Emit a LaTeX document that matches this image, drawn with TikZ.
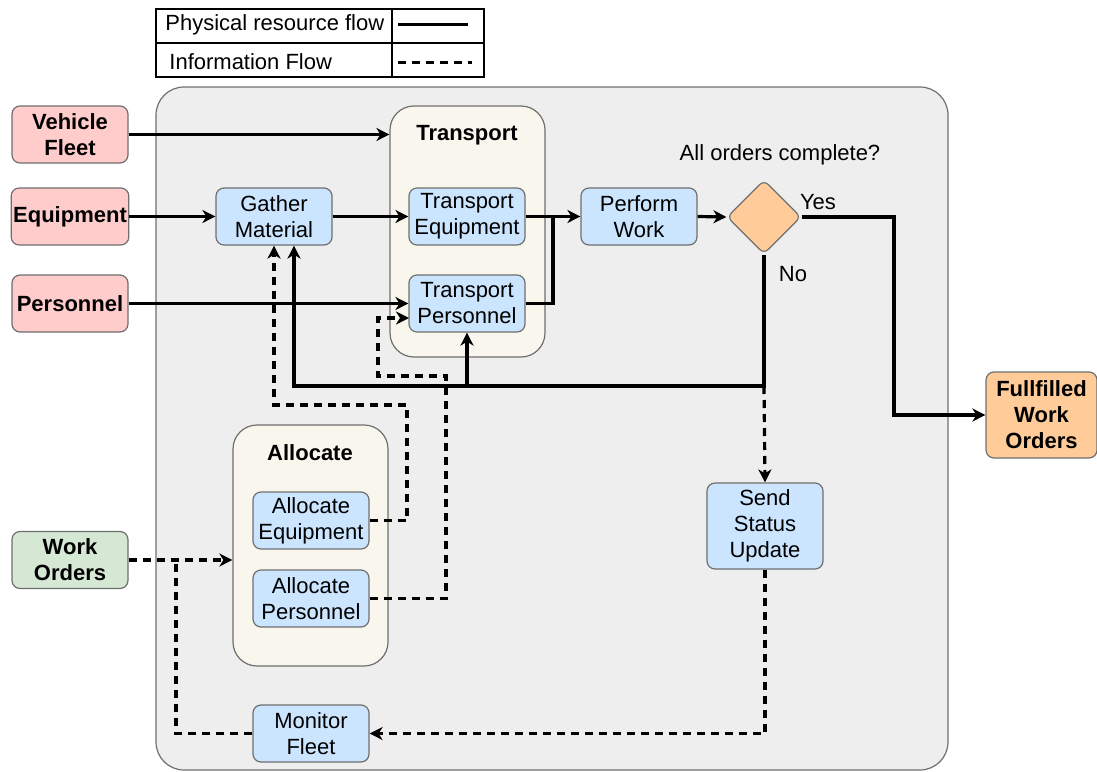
\documentclass[tikz,border=0pt]{standalone}
\usepackage{fontspec}
\setmainfont{Liberation Sans}
\usetikzlibrary{arrows.meta}
\usetikzlibrary{calc}
\usetikzlibrary{shapes.geometric}

\definecolor{areagray}{HTML}{EEEEEE}
\definecolor{groupcream}{HTML}{F9F7ED}
\definecolor{stepblue}{HTML}{CCE5FF}
\definecolor{inpink}{HTML}{FFCCCC}
\definecolor{ordergreen}{HTML}{D5E8D4}
\definecolor{outorange}{HTML}{FFCC99}
\definecolor{edgegray}{HTML}{6F6F6F}

\tikzset{
	txt/.style={font=\fontsize{11}{13}\selectfont},
	box/.style={txt, draw=edgegray, line width=0.6pt, rounded corners=4pt, align=center, inner sep=1pt, minimum width=58pt, minimum height=28.5pt},
	stepbox/.style={box, fill=stepblue},
	inbox/.style={box, fill=inpink, font=\fontsize{11}{13}\selectfont\bfseries},
	groupbox/.style={draw=edgegray, line width=0.6pt, rounded corners=12pt, fill=groupcream, minimum width=77.5pt},
	link/.style={line width=1.6pt},
	infolink/.style={link, dash pattern=on 4pt off 3pt},
	flow/.style={link, -{Stealth[length=6.5pt,width=6.5pt,inset=2pt]}},
	info/.style={flow, dash pattern=on 4pt off 3pt},
}

\begin{document}
\begin{tikzpicture}[x=0.5pt, y=-0.5pt]
	\useasboundingbox (0,0) rectangle (1097,771);

	% Legend
	\begin{scope}
		\draw[line width=0.6pt, fill=white] (156,9) rectangle (484,77);
		\draw[line width=0.6pt] (156,43) -- (484,43);
		\draw[line width=0.6pt] (392,9) -- (392,77);
		\node[txt, anchor=west, inner sep=0pt] (legphys) at (165,25) {Physical resource flow};
		\node[txt, anchor=west, inner sep=0pt] (leginfo) at (169,62) {Information Flow};
		\coordinate (physleft) at (398,24.5);
		\coordinate (physright) at (468,24.5);
		\coordinate (infoleft) at (398,62.5);
		\coordinate (inforight) at (472,62.5);
		\draw[link] (physleft) -- (physright);
		\draw[infolink] (infoleft) -- (inforight);
	\end{scope}

	% Work area
	\node[draw=edgegray, line width=0.6pt, fill=areagray, rounded corners=14pt, minimum width=396pt, minimum height=341.5pt] (area) at (552,428.5) {};

	% Groups
	\node[groupbox, minimum height=125.5pt] (transport) at (467.5,231.5) {};
	\node[txt, font=\fontsize{11}{13}\selectfont\bfseries] (transporttitle) at (467,135) {Transport};
	\node[groupbox, minimum height=120.5pt] (allocate) at (310.5,545.5) {};
	\node[txt, font=\fontsize{11}{13}\selectfont\bfseries] (allocatetitle) at (310,453) {Allocate};

	% Inputs and output
	\node[inbox] (vfleet) at (70,134.5) {Vehicle\\Fleet};
	\node[inbox] (equip) at (70,216.5) {Equipment};
	\node[inbox] (staff) at (70,303.5) {Personnel};
	\node[inbox, fill=ordergreen] (orders) at (70,560) {Work\\Orders};
	\node[inbox, fill=outorange, minimum width=55.5pt, minimum height=43pt] (done) at (1041.5,415) {Fullfilled\\Work\\Orders};

	% Steps
	\node[stepbox] (gather) at (274,216.5) {Gather\\Material};
	\node[stepbox] (tequip) at (467,216.5) {Transport\\Equipment};
	\node[stepbox] (tstaff) at (467,303.5) {Transport\\Personnel};
	\node[stepbox] (work) at (639,216.5) {Perform\\Work};
	\node[stepbox, minimum height=43pt] (status) at (765,526) {Send\\Status\\Update};
	\node[stepbox] (aequip) at (311,520.5) {Allocate\\Equipment};
	\node[stepbox] (astaff) at (311,598.5) {Allocate\\Personnel};
	\node[stepbox] (monitor) at (311,733.5) {Monitor\\Fleet};

	% Decision
	\node[diamond, draw=edgegray, line width=0.6pt, fill=outorange, rounded corners=3pt, minimum width=37pt, minimum height=37pt, inner sep=0pt] (check) at (764,217) {};
	\node[txt] (question) at (780,155) {All orders complete?};
	\node[txt] (yes) at (818,202) {Yes};
	\node[txt] (no) at (793,274) {No};

	% Physical flow
	\draw[flow] (vfleet.east) -- (vfleet.east -| transport.west);
	\draw[flow] (equip.east) -- (gather.west);
	\draw[flow] (gather.east) -- (tequip.west);
	\draw[flow] (staff.east) -- (tstaff.west);
	\draw[flow] (tequip.east) -- (work.west);
	\coordinate (join) at (553,216.5);
	\draw[link] (tstaff.east) -| (join);
	\draw[flow] (work.east) -- (check.west);

	% Yes branch
	\coordinate (yesbend) at (894,217);
	\draw[flow] (check.east) -- (yesbend) |- (done.west);

	% No branch
	\coordinate (nobend) at (764,386);
	\coordinate (backbend) at (294,386);
	\draw[flow] (check.south) -- (nobend) -- (backbend) -- (backbend |- gather.south);
	\draw[flow] (tstaff.south |- nobend) -- (tstaff.south);

	% Information flow
	\draw[info] (nobend) -- (status.north);
	\coordinate (statusbend) at (765,733.5);
	\draw[info] (status.south) -- (statusbend) -- (monitor.east);
	\coordinate (monitorbend) at (176,733.5);
	\draw[infolink] (monitor.west) -- (monitorbend) -- (monitorbend |- orders.east);
	\draw[info] (orders.east) -- (orders.east -| allocate.west);

	\coordinate (aeqbend) at (407,405);
	\coordinate (gatherin) at (274,405);
	\draw[info] (aequip.east) -| (aeqbend) -- (gatherin) -- (gatherin |- gather.south);

	\coordinate (apbend) at (446,376);
	\coordinate (tpbend) at (378,376);
	\coordinate (tpin) at (409,318);
	\draw[info] (astaff.east) -| (apbend) -- (tpbend) |- (tpin);

\end{tikzpicture}
\end{document}
